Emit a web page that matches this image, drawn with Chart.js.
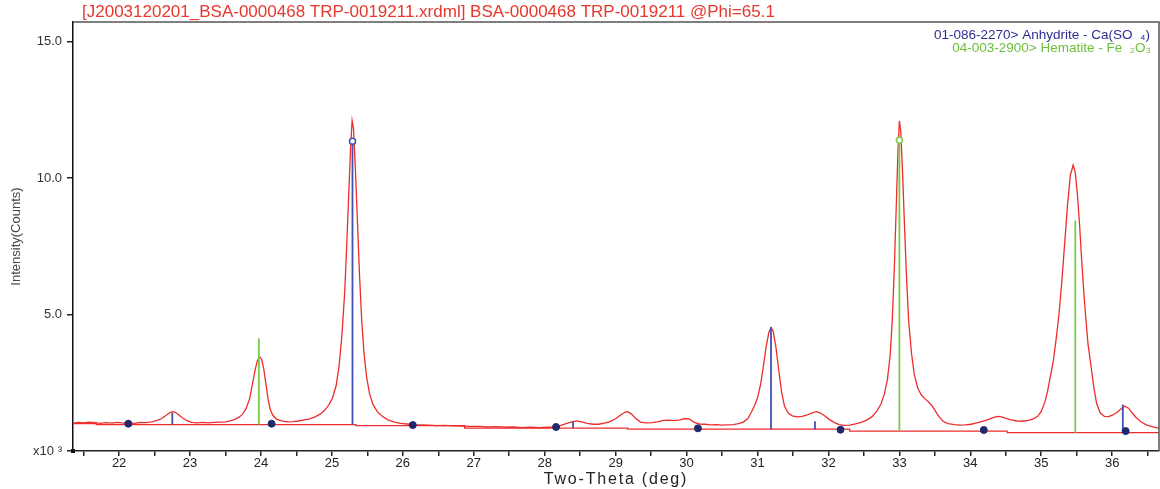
<!DOCTYPE html>
<html>
<head>
<meta charset="utf-8">
<script src="https://cdn.jsdelivr.net/npm/chart.js@4.4.0/dist/chart.umd.min.js"></script>
<style>
html, body { margin: 0; padding: 0; background: #fff; }
#wrap { width: 1160px; height: 489px; }
</style>
</head>
<body>
<div id="wrap"><canvas id="xrd" width="1160" height="489"></canvas></div>
<script>
// measured pattern, counts in x10^3
const twoTheta = [
  21.35, 21.42, 21.50, 21.58, 21.66, 21.74, 21.82, 21.90, 21.98, 22.06, 22.14, 22.22, 22.30, 22.38, 22.46,
  22.53, 22.60, 22.66, 22.71, 22.75, 22.79, 22.84, 22.89, 22.95, 23.02, 23.10, 23.18, 23.26, 23.34, 23.42,
  23.50, 23.57, 23.63, 23.69, 23.74, 23.79, 23.84, 23.88, 23.92, 23.95, 23.98, 24.01, 24.04, 24.07, 24.10,
  24.13, 24.17, 24.22, 24.29, 24.37, 24.45, 24.53, 24.61, 24.69, 24.77, 24.84, 24.90, 24.96, 25.01, 25.06,
  25.10, 25.14, 25.18, 25.21, 25.24, 25.265, 25.285, 25.305, 25.33, 25.36, 25.39, 25.42, 25.45, 25.49, 25.53,
  25.58, 25.64, 25.71, 25.79, 25.88, 25.97, 26.06, 26.16, 26.26, 26.36, 26.48, 26.60, 26.72, 26.84, 26.96,
  27.08, 27.20, 27.32, 27.44, 27.56, 27.68, 27.80, 27.92, 28.04, 28.14, 28.22, 28.30, 28.38, 28.45, 28.52,
  28.60, 28.68, 28.76, 28.84, 28.92, 29.00, 29.07, 29.13, 29.17, 29.22, 29.28, 29.35, 29.43, 29.51, 29.59,
  29.67, 29.75, 29.83, 29.91, 29.98, 30.04, 30.10, 30.18, 30.26, 30.34, 30.42, 30.50, 30.58, 30.66, 30.73,
  30.80, 30.86, 30.91, 30.96, 31.00, 31.04, 31.08, 31.12, 31.16, 31.19, 31.22, 31.26, 31.30, 31.34, 31.38,
  31.43, 31.49, 31.56, 31.63, 31.70, 31.77, 31.83, 31.88, 31.94, 32.01, 32.08, 32.15, 32.22, 32.30, 32.38,
  32.46, 32.54, 32.61, 32.68, 32.74, 32.79, 32.83, 32.87, 32.90, 32.93, 32.96, 32.98, 33.00, 33.02, 33.045,
  33.07, 33.10, 33.13, 33.17, 33.21, 33.26, 33.31, 33.36, 33.41, 33.46, 33.51, 33.56, 33.62, 33.69, 33.77,
  33.85, 33.93, 34.01, 34.09, 34.17, 34.25, 34.32, 34.38, 34.44, 34.51, 34.58, 34.66, 34.74, 34.82, 34.89,
  34.95, 35.00, 35.05, 35.09, 35.13, 35.17, 35.21, 35.25, 35.29, 35.33, 35.37, 35.41, 35.45, 35.48, 35.51,
  35.54, 35.57, 35.60, 35.63, 35.66, 35.70, 35.74, 35.78, 35.83, 35.89, 35.95, 36.01, 36.07, 36.13, 36.18,
  36.23, 36.28, 36.34, 36.41, 36.48, 36.56, 36.66
];
const counts = [
  1.02, 1.05, 1.03, 1.06, 1.04, 1.01, 1.04, 1.02, 1.05, 1.02, 1.04, 1.01, 1.05, 1.04, 1.07,
  1.11, 1.19, 1.30, 1.40, 1.44, 1.42, 1.33, 1.22, 1.12, 1.05, 1.03, 1.05, 1.03, 1.05, 1.06,
  1.07, 1.10, 1.16, 1.24, 1.34, 1.55, 1.92, 2.45, 3.00, 3.32, 3.45, 3.36, 3.00, 2.45, 1.90,
  1.52, 1.30, 1.17, 1.10, 1.07, 1.08, 1.10, 1.14, 1.18, 1.26, 1.36, 1.50, 1.70, 1.95, 2.40,
  3.10, 4.20, 5.80, 7.60, 9.60, 11.2, 12.1, 11.8, 10.4, 8.40, 6.40, 4.80, 3.65, 2.70, 2.10,
  1.70, 1.44, 1.27, 1.14, 1.06, 1.01, 0.99, 0.97, 0.96, 0.95, 0.93, 0.94, 0.92, 0.91, 0.90,
  0.90, 0.88, 0.89, 0.87, 0.88, 0.86, 0.87, 0.86, 0.87, 0.88, 0.93, 1.00, 1.07, 1.10, 1.07,
  1.01, 0.98, 0.98, 1.02, 1.08, 1.18, 1.32, 1.42, 1.44, 1.36, 1.20, 1.06, 1.03, 1.04, 1.07,
  1.12, 1.13, 1.11, 1.14, 1.19, 1.17, 1.06, 0.99, 0.98, 0.96, 0.97, 0.95, 0.96, 0.97, 1.00,
  1.06, 1.18, 1.40, 1.68, 1.95, 2.40, 3.05, 3.80, 4.35, 4.52, 4.40, 3.80, 2.95, 2.15, 1.65,
  1.40, 1.29, 1.25, 1.27, 1.32, 1.40, 1.44, 1.40, 1.30, 1.16, 1.05, 0.97, 0.94, 0.95, 0.99,
  1.05, 1.13, 1.25, 1.45, 1.72, 2.10, 2.60, 3.50, 4.80, 6.80, 9.30, 11.0, 12.1, 11.7, 10.2,
  8.40, 6.40, 4.80, 3.60, 2.80, 2.30, 2.05, 1.92, 1.80, 1.66, 1.45, 1.25, 1.08, 1.00, 0.97,
  0.95, 0.96, 0.98, 1.03, 1.09, 1.15, 1.22, 1.27, 1.25, 1.19, 1.14, 1.10, 1.09, 1.12, 1.18,
  1.27, 1.45, 1.78, 2.20, 2.75, 3.30, 4.10, 5.00, 6.20, 7.60, 9.00, 10.1, 10.48, 10.2, 9.40,
  8.30, 7.00, 5.80, 4.80, 3.90, 3.15, 2.35, 1.75, 1.40, 1.27, 1.26, 1.32, 1.42, 1.56, 1.64,
  1.57, 1.40, 1.22, 1.06, 0.96, 0.89, 0.83
];

// fitted background (stepped) and its anchor points
const bgTheta = [21.35, 21.68, 21.68, 25.34, 25.34, 26.87, 26.87, 29.17, 29.17, 32.30, 32.30, 34.52, 34.52, 36.66];
const bgCounts = [1.00, 1.00, 0.97, 0.97, 0.93, 0.93, 0.84, 0.84, 0.80, 0.80, 0.73, 0.73, 0.67, 0.67];
const bgPtTheta = [22.13, 24.15, 26.14, 28.16, 30.16, 32.17, 34.19, 36.19];
const bgPtCounts = [1.00, 1.00, 0.95, 0.88, 0.83, 0.78, 0.77, 0.73];

// reference sticks
const anhTheta = [22.75, 25.29, 28.40, 31.19, 31.81, 36.15];
const anhTop = [1.40, 11.35, 1.06, 4.54, 1.09, 1.70];
const anhBase = [0.97, 0.97, 0.84, 0.80, 0.80, 0.67];
const hemTheta = [23.97, 33.00, 35.48];
const hemTop = [4.13, 11.39, 8.45];
const hemBase = [0.97, 0.73, 0.67];

const xTicks = [22, 23, 24, 25, 26, 27, 28, 29, 30, 31, 32, 33, 34, 35, 36];
const yTicks = [0, 5, 10, 15];

const titleText = '[J2003120201_BSA-0000468 TRP-0019211.xrdml] BSA-0000468 TRP-0019211 @Phi=65.1';
const phaseNames = ['01-086-2270> Anhydrite - Ca(SO  \u2084)', '04-003-2900> Hematite - Fe  \u2082O\u2083'];

const FONT = '"Liberation Sans", Arial, sans-serif';
const RED = '#ee2c2c';
const BLUE = '#4350b4';
const GREEN = '#7cc84a';

function pts(xs, ys) { return xs.map((x, i) => ({ x: x, y: ys[i] })); }

function sticks(xs, base, top) {
  const out = [];
  xs.forEach((x, i) => {
    out.push({ x: x, y: base[i] }, { x: x, y: top[i] }, { x: x, y: null });
  });
  return out;
}

// the strongest line of each phase carries a small open circle
function strongest(xs, top) {
  const m = Math.max(...top);
  const i = top.indexOf(m);
  return [{ x: xs[i], y: top[i] }];
}

const decor = {
  id: 'decor',
  afterDraw(chart) {
    const c = chart.ctx, a = chart.chartArea;
    c.save();
    c.strokeStyle = '#555';
    c.lineWidth = 1.5;
    c.beginPath();
    c.moveTo(a.left, a.top);
    c.lineTo(a.right, a.top);
    c.lineTo(a.right, a.bottom);
    c.stroke();

    c.fillStyle = '#111';
    c.fillRect(a.left - 2, a.bottom - 2, 4, 4);

    c.textBaseline = 'middle';
    c.font = '17px ' + FONT;
    c.fillStyle = '#e8372c';
    c.textAlign = 'left';
    c.fillText(titleText, 82, 12);

    c.font = '13.5px ' + FONT;
    c.textAlign = 'right';
    c.fillStyle = '#2e2e92';
    c.fillText(phaseNames[0], 1150, 35);
    c.fillStyle = '#6cbf3a';
    c.fillText(phaseNames[1], 1151, 48);

    c.font = '16px ' + FONT;
    c.fillStyle = '#222';
    c.textAlign = 'center';
    c.letterSpacing = '1.8px';
    c.fillText('Two-Theta (deg)', (a.left + a.right) / 2, 480);
    c.letterSpacing = '0px';

    c.translate(16, (a.top + a.bottom) / 2);
    c.rotate(-Math.PI / 2);
    c.font = '13px ' + FONT;
    c.fillStyle = '#444';
    c.fillText('Intensity(Counts)', 0, 0);
    c.restore();
  }
};

new Chart(document.getElementById('xrd'), {
  type: 'scatter',
  data: {
    datasets: [
      { data: pts(bgPtTheta, bgPtCounts), pointRadius: 3.5, pointBackgroundColor: '#1f2a6e', pointBorderColor: '#1f2a6e', showLine: false },
      { data: strongest(anhTheta, anhTop), pointRadius: 3, pointBackgroundColor: '#fff', pointBorderColor: BLUE, pointBorderWidth: 1.5, showLine: false },
      { data: strongest(hemTheta, hemTop), pointRadius: 3, pointBackgroundColor: '#fff', pointBorderColor: GREEN, pointBorderWidth: 1.5, showLine: false },
      { data: sticks(anhTheta, anhBase, anhTop), showLine: true, borderColor: BLUE, borderWidth: 1.8, pointRadius: 0 },
      { data: sticks(hemTheta, hemBase, hemTop), showLine: true, borderColor: GREEN, borderWidth: 1.8, pointRadius: 0 },
      { data: pts(twoTheta, counts), showLine: true, borderColor: RED, borderWidth: 1.3, pointRadius: 0 },
      { data: pts(bgTheta, bgCounts), showLine: true, borderColor: RED, borderWidth: 1.3, pointRadius: 0 }
    ]
  },
  options: {
    responsive: false,
    animation: false,
    devicePixelRatio: 1,
    layout: { autoPadding: false, padding: { top: 22, right: 1, left: 0, bottom: 0 } },
    plugins: { legend: { display: false }, tooltip: { enabled: false }, title: { display: false } },
    scales: {
      x: {
        type: 'linear', min: 21.35, max: 36.66,
        afterFit: s => { s.height = 38; },
        border: { display: true, color: '#222', width: 1.5 },
        grid: { drawOnChartArea: false, drawTicks: true, tickLength: 5, color: '#222', lineWidth: 1.5 },
        ticks: {
          stepSize: 0.5, includeBounds: false, autoSkip: false, maxRotation: 0, padding: 0,
          color: '#222', font: { family: FONT, size: 13 },
          callback: v => xTicks.includes(v) ? String(v) : ''
        }
      },
      y: {
        min: 0, max: 15.72,
        afterFit: s => { s.width = 73; },
        border: { display: true, color: '#111', width: 1.5 },
        grid: { drawOnChartArea: false, drawTicks: true, tickLength: 6, color: '#222', lineWidth: 1.5 },
        ticks: {
          stepSize: 5, includeBounds: false, padding: 5,
          color: '#333', font: { family: FONT, size: 13 },
          callback: v => yTicks.includes(v) ? (v === 0 ? 'x10 \u00b3' : v.toFixed(1)) : ''
        }
      }
    }
  },
  plugins: [decor]
});
</script>
</body>
</html>
